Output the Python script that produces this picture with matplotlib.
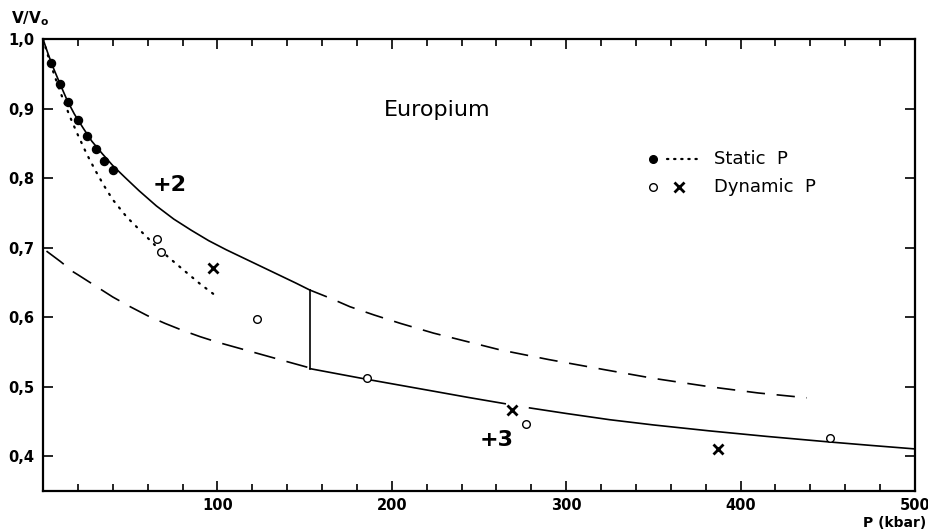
import numpy as np
import matplotlib
matplotlib.use("Agg")
import matplotlib.pyplot as plt
from matplotlib.ticker import MultipleLocator, FuncFormatter

# ---- data ----
# +2 curve (solid up to transition)
p2_solid = [0, 3, 6, 10, 14, 18, 23, 28, 34, 40, 47, 55, 65, 75, 85, 95, 105, 115, 125, 135, 145, 153]
v2_solid = [1.0, 0.978, 0.958, 0.934, 0.911, 0.892, 0.872, 0.853, 0.835, 0.818, 0.801, 0.782,
            0.760, 0.741, 0.725, 0.710, 0.697, 0.685, 0.673, 0.661, 0.649, 0.639]
# +2 curve extrapolated (dashed)
p2_dash = [153, 165, 176, 190, 205, 224, 243, 262, 290, 323, 350, 382, 410, 438]
v2_dash = [0.639, 0.627, 0.615, 0.603, 0.591, 0.577, 0.565, 0.553, 0.539, 0.524, 0.512, 0.500, 0.491, 0.484]
# +3 curve (solid after transition), interrupted at the cross near 270 kbar
p3_solid_a = [153, 170, 186, 205, 224, 244, 265]
v3_solid_a = [0.526, 0.518, 0.5105, 0.502, 0.4935, 0.4845, 0.4755]
p3_solid_b = [279, 300, 325, 350, 382, 415, 451, 475, 500]
v3_solid_b = [0.4695, 0.4615, 0.4525, 0.445, 0.4365, 0.4285, 0.4205, 0.4155, 0.4105]
# +3 curve extrapolated (dashed)
p3_dash = [2, 10, 17.4, 20, 30, 40, 50, 60, 70, 80, 90, 100, 110, 120, 130, 140, 153]
v3_dash = [0.695, 0.680, 0.665, 0.661, 0.645, 0.629, 0.615, 0.602, 0.591, 0.581, 0.572,
           0.564, 0.557, 0.550, 0.543, 0.536, 0.527]
# transition
p_trans = [153, 153]
v_trans = [0.639, 0.526]
# static fit (dotted)
p_dot = [0, 3, 6, 9, 12, 16, 20, 25, 30, 35, 40, 48, 56, 64, 72, 80, 90, 100]
v_dot = [1.0, 0.975, 0.952, 0.930, 0.910, 0.885, 0.862, 0.835, 0.811, 0.789, 0.769,
         0.744, 0.724, 0.704, 0.686, 0.669, 0.648, 0.629]
# static data points
p_static = [4.6, 9.7, 14.5, 19.9, 25.0, 30.2, 35.2, 40.3]
v_static = [0.966, 0.935, 0.909, 0.884, 0.860, 0.842, 0.825, 0.811]
# dynamic data: open circles
p_dyn_o = [65.2, 67.5, 122.5, 185.6, 277, 451]
v_dyn_o = [0.712, 0.693, 0.597, 0.513, 0.446, 0.426]
# dynamic data: crosses
p_dyn_x = [97.3, 269, 387]
v_dyn_x = [0.671, 0.467, 0.411]

xticks = [100, 200, 300, 400, 500]
yticks = [0.4, 0.5, 0.6, 0.7, 0.8, 0.9, 1.0]

plt.rcParams['font.family'] = ['DejaVu Sans']

fig = plt.figure(figsize=(9.29, 5.31), dpi=100)
ax = fig.add_axes([43 / 929, 1 - 491 / 531, (915 - 43) / 929, (491 - 39) / 531])

lw = 1.2
ax.plot(p2_solid, v2_solid, color='black', lw=lw)
ax.plot(p2_dash, v2_dash, color='black', lw=lw, dashes=(11, 7))
ax.plot(p3_solid_a, v3_solid_a, color='black', lw=lw)
ax.plot(p3_solid_b, v3_solid_b, color='black', lw=lw)
ax.plot(p3_dash, v3_dash, color='black', lw=lw, dashes=(13, 7))
ax.plot(p_trans, v_trans, color='black', lw=lw)
ax.plot(p_dot, v_dot, color='black', lw=1.6, linestyle=(0, (0.6, 3.2)), dash_capstyle='round')

ax.plot(p_static, v_static, 'o', color='black', ms=5.8)
ax.plot(p_dyn_o, v_dyn_o, 'o', mfc='white', mec='black', mew=1.0, ms=5.5)
ax.plot(p_dyn_x, v_dyn_x, 'x', color='black', ms=7, mew=2.0)

# legend drawn by hand
ax.plot([350], [0.827], 'o', color='black', ms=5.5)
ax.plot([358, 375], [0.827, 0.827], color='black', lw=1.6, linestyle=(0, (0.6, 2.6)), dash_capstyle='round')
ax.text(385, 0.827, 'Static  P', fontsize=13, va='center', ha='left')
ax.plot([350], [0.787], 'o', mfc='white', mec='black', mew=1.0, ms=5.5)
ax.plot([364.7], [0.787], 'x', color='black', ms=7, mew=2.0)
ax.text(385, 0.787, 'Dynamic  P', fontsize=13, va='center', ha='left')

ax.text(226, 0.898, 'Europium', fontsize=16, ha='center', va='center')
ax.text(72.8, 0.79, '+2', fontsize=16, ha='center', va='center', fontweight='bold')
ax.text(260, 0.423, '+3', fontsize=16, ha='center', va='center', fontweight='bold')

ax.set_xlim(0, 500)
ax.set_ylim(0.35, 1.0)
ax.set_xticks(xticks)
ax.set_yticks(yticks)
ax.xaxis.set_minor_locator(MultipleLocator(20))
ax.xaxis.set_major_formatter(FuncFormatter(lambda v, p: f"{int(v)}"))
ax.yaxis.set_major_formatter(FuncFormatter(lambda v, p: f"{v:.1f}".replace('.', ',')))
ax.tick_params(which='both', direction='in', top=True, right=True, width=1.2)
ax.tick_params(which='major', length=7, labelsize=10.5)
ax.tick_params(axis='x', which='major', pad=5)
ax.tick_params(axis='y', which='major', pad=6)
ax.tick_params(which='minor', length=5)
for lab in ax.get_xticklabels() + ax.get_yticklabels():
    lab.set_fontweight('bold')
for s in ax.spines.values():
    s.set_linewidth(1.6)

fig.text(30 / 929, 1 - 19 / 531, 'V/V$_\\mathbf{o}$', fontsize=11, fontweight='bold', ha='center', va='center')
fig.text(926 / 929, 1 - 523 / 531, 'P (kbar)', fontsize=10, fontweight='bold', ha='right', va='center')

fig.savefig('out.png', dpi=100)
